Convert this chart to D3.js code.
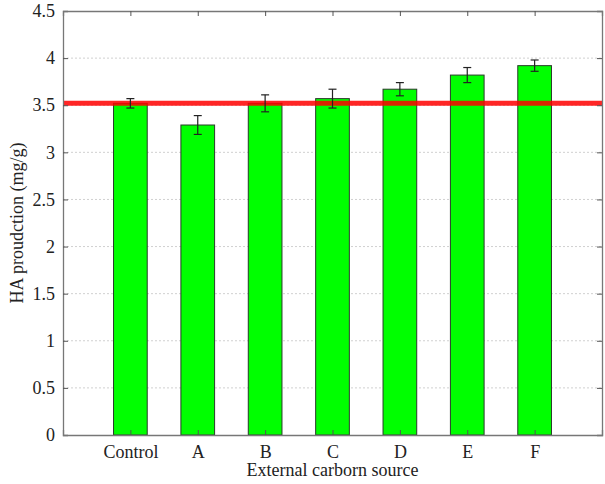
<!DOCTYPE html>
<html>
<head>
<meta charset="utf-8">
<script src="https://cdn.jsdelivr.net/npm/d3@7"></script>
<style>
body{margin:0;background:#fff}
svg text{font-family:"Liberation Serif","Times New Roman",serif;fill:#222}
</style>
</head>
<body>
<div id="chart"></div>
<script>
// data
const categories=["Control","A","B","C","D","E","F"]
const values=[3.52,3.29,3.52,3.57,3.67,3.82,3.92]
const errors=[0.05,0.10,0.09,0.10,0.07,0.08,0.06]
const yTicks=[0,0.5,1,1.5,2,2.5,3,3.5,4,4.5]
const referenceValue=3.52

const width=605,height=484
const plotLeft=63,plotRight=602,plotTop=11,plotBottom=435

const svg=d3.select("#chart").append("svg").attr("width",width).attr("height",height)

// categories sit at 1..7 on a 0..8 axis
const xScale=d3.scaleLinear().domain([0,categories.length+1]).range([plotLeft,plotRight])
const yScale=d3.scaleLinear().domain([0,4.5]).range([plotBottom,plotTop])
const barW=(xScale(1)-xScale(0))/2

// dotted grid
svg.append("g").selectAll("line").data(yTicks.slice(1,-1)).enter().append("line")
    .attr("x1",plotLeft).attr("x2",plotRight)
    .attr("y1",d=>yScale(d)).attr("y2",d=>yScale(d))
    .attr("stroke","#d0d0d0").attr("stroke-width",1).attr("stroke-dasharray","2,2")

// bars
svg.append("g").selectAll("rect").data(values).enter().append("rect")
    .attr("x",(d,i)=>xScale(i+1)-barW/2).attr("width",barW)
    .attr("y",d=>yScale(d)).attr("height",d=>plotBottom-yScale(d))
    .attr("fill","#00ff00").attr("stroke","#2a3a2a").attr("stroke-width",1)

// red reference line
svg.append("line").attr("x1",plotLeft).attr("x2",plotRight)
    .attr("y1",yScale(referenceValue)).attr("y2",yScale(referenceValue))
    .attr("stroke","#ff0000").attr("stroke-opacity",0.85).attr("stroke-width",5)

// error bars
const eb=svg.append("g").attr("stroke","#222").attr("stroke-width",1.2)
values.forEach((v,i)=>{
    const cx=xScale(i+1)
    eb.append("line").attr("x1",cx).attr("x2",cx).attr("y1",yScale(v-errors[i])).attr("y2",yScale(v+errors[i]))
    eb.append("line").attr("x1",cx-4).attr("x2",cx+4).attr("y1",yScale(v-errors[i])).attr("y2",yScale(v-errors[i]))
    eb.append("line").attr("x1",cx-4).attr("x2",cx+4).attr("y1",yScale(v+errors[i])).attr("y2",yScale(v+errors[i]))
})

// axes, ticks pointing inward, mirrored on top and right
const yAxis=d3.axisLeft(yScale).tickValues(yTicks).tickSize(-5).tickPadding(8).tickFormat(d3.format("~g"))
const yAxisR=d3.axisRight(yScale).tickValues(yTicks).tickSize(-5).tickFormat("")
const xAxis=d3.axisBottom(xScale).tickValues(d3.range(1,categories.length+1)).tickSize(-5).tickPadding(10).tickFormat(d=>categories[d-1])
const xAxisT=d3.axisTop(xScale).tickValues(d3.range(1,categories.length+1)).tickSize(-5).tickFormat("")

svg.append("g").attr("transform",`translate(${plotLeft},0)`).call(yAxis)
svg.append("g").attr("transform",`translate(${plotRight},0)`).call(yAxisR)
svg.append("g").attr("transform",`translate(0,${plotBottom})`).call(xAxis)
svg.append("g").attr("transform",`translate(0,${plotTop})`).call(xAxisT)

svg.selectAll(".domain").attr("stroke","#777").attr("stroke-width",1.3)
svg.selectAll(".tick line").attr("stroke","#555")
svg.selectAll(".tick text").attr("font-size",18).attr("fill","#222")

// axis titles
svg.append("text").attr("x",(plotLeft+plotRight)/2).attr("y",476).attr("text-anchor","middle")
    .attr("font-size",18).text("External carborn source")
svg.append("text").attr("transform",`translate(23,${(plotTop+plotBottom)/2}) rotate(-90)`).attr("text-anchor","middle")
    .attr("font-size",18).text("HA proudction (mg/g)")
</script>
</body>
</html>
